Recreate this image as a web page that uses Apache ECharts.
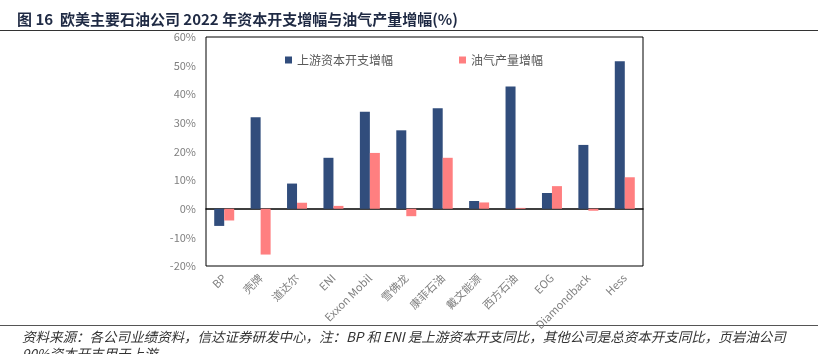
<!DOCTYPE html>
<html>
<head>
<meta charset="utf-8">
<script src="https://cdn.jsdelivr.net/npm/echarts@6/dist/echarts.min.js"></script>
<style>
  html, body { margin: 0; padding: 0; background: #fff; }
  #chart { width: 818px; height: 354px; }
</style>
</head>
<body>
<div id="chart"></div>
<script>
var companies = ['BP', '壳牌', '道达尔', 'ENI', 'Exxon Mobil', '雪佛龙', '康菲石油', '戴文能源', '西方石油', 'EOG', 'Diamondback', 'Hess'];
var capexGrowth = [-6.0, 32.0, 8.8, 17.8, 33.9, 27.4, 35.1, 2.7, 42.7, 5.5, 22.3, 51.5];
var outputGrowth = [-4.1, -16.0, 2.1, 1.0, 19.5, -2.6, 17.8, 2.2, 0.3, 7.9, -0.7, 11.0];
var yTicks = [-20, -10, 0, 10, 20, 30, 40, 50, 60];

var myChart = echarts.init(document.getElementById('chart'));
var option = {
    backgroundColor: '#fff',
    animation: false,
    textStyle: { fontFamily: 'Noto Sans CJK SC, Liberation Sans, sans-serif' },
    title: {
        text: '图 16  欧美主要石油公司 2022 年资本开支增幅与油气产量增幅(%)',
        left: 12,
        top: 7,
        textStyle: { fontSize: 15, fontWeight: 'bold', color: '#1f2a44' }
    },
    legend: {
        data: ['上游资本开支增幅', '油气产量增幅'],
        top: 49,
        left: 280,
        itemWidth: 7,
        itemHeight: 7,
        itemGap: 66,
        icon: 'rect',
        textStyle: { color: '#595959', fontSize: 12 }
    },
    grid: {
        left: 206,
        right: 175,
        top: 37,
        bottom: 88,
        show: true,
        borderColor: '#000',
        borderWidth: 1
    },
    xAxis: {
        type: 'category',
        data: companies,
        axisLine: { show: true, onZero: true, lineStyle: { color: '#000', width: 1.5 } },
        axisTick: { show: false },
        axisLabel: {
            rotate: 45,
            interval: 0,
            color: '#7f7f7f',
            fontSize: 11,
            margin: 10
        }
    },
    yAxis: {
        type: 'value',
        min: -20,
        max: 60,
        interval: 10,
        splitLine: { show: false },
        axisLine: { show: false },
        axisTick: { show: false },
        axisLabel: {
            color: '#7f7f7f',
            fontSize: 11,
            margin: 10,
            formatter: function (v) { return yTicks.indexOf(v) >= 0 ? v + '%' : ''; }
        }
    },
    series: [{
        name: '上游资本开支增幅',
        type: 'bar',
        data: capexGrowth,
        barWidth: 10,
        barGap: '0%',
        itemStyle: { color: '#314d7c' }
    }, {
        name: '油气产量增幅',
        type: 'bar',
        data: outputGrowth,
        barWidth: 10,
        itemStyle: { color: '#ff7f80' }
    }],
    graphic: [{
        type: 'line',
        shape: { x1: 0, y1: 30.5, x2: 818, y2: 30.5 },
        style: { stroke: '#333', lineWidth: 1 }
    }, {
        type: 'line',
        shape: { x1: 0, y1: 325.5, x2: 818, y2: 325.5 },
        style: { stroke: '#555', lineWidth: 1 }
    }, {
        type: 'text',
        left: 22,
        top: 330,
        style: {
            text: '资料来源：各公司业绩资料，信达证券研发中心，注：BP 和 ENI 是上游资本开支同比，其他公司是总资本开支同比，页岩油公司',
            font: 'italic 13.5px "Noto Sans CJK SC", sans-serif',
            fill: '#333'
        }
    }, {
        type: 'text',
        left: 22,
        top: 347,
        style: {
            text: '90%资本开支用于上游',
            font: 'italic 13.5px "Noto Sans CJK SC", sans-serif',
            fill: '#333'
        }
    }]
};
option && myChart.setOption(option);
</script>
</body>
</html>
